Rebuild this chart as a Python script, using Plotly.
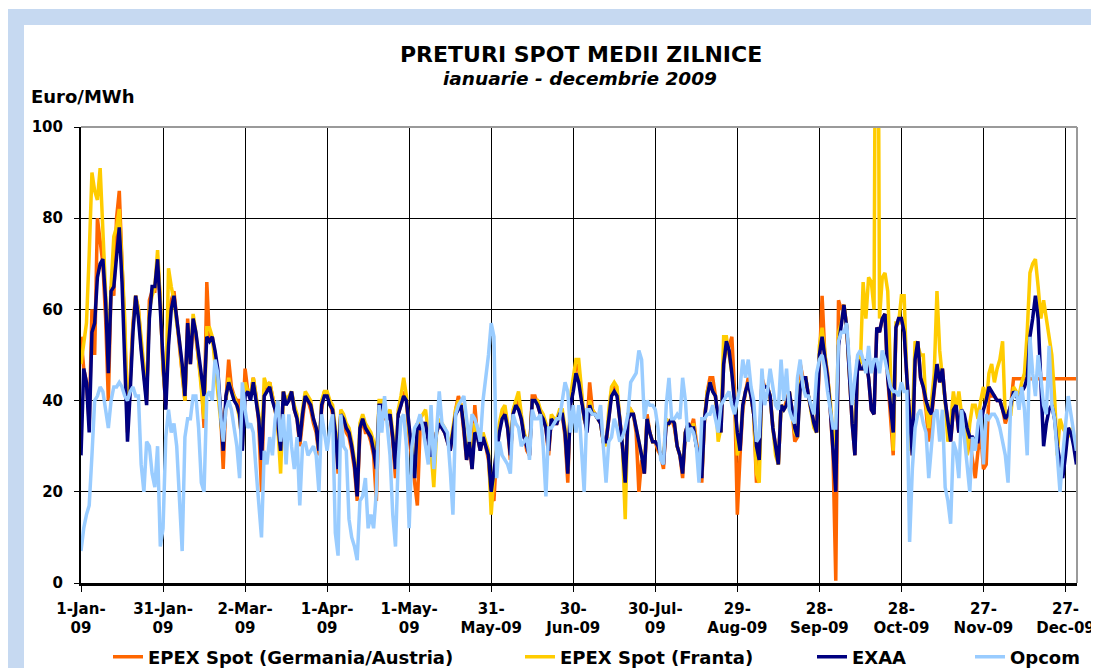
import pandas as pd
import plotly.graph_objects as go

# ---------------- data (daily averages, EUR/MWh, 1 Jan - 31 Dec 2009) ----------------
dates = pd.date_range("2009-01-01", "2009-12-31", freq="D")

epex_de = [
    54, 47, 44, 35, 60, 50, 80, 75, 70, 58, 40, 65, 63, 80, 86, 70, 55, 33, 44, 57, 63, 60, 52, 46, 40, 62, 64, 64, 71, 62, 47,
    39, 57, 62, 64, 58, 52, 47, 40, 58, 48, 57, 54, 49, 44, 34, 66, 53, 54, 50, 45, 38, 25, 40, 49, 43, 41, 40, 40,
    33, 47, 42, 41, 45, 41, 35, 20, 42, 43, 44, 41, 38, 34, 28, 42, 40, 40, 42, 38, 36, 30, 36, 41, 40, 38, 35, 33, 28, 38, 42,
    41, 40, 37, 33, 24, 37, 36, 33, 32, 29, 25, 18, 33, 36, 33, 33, 31, 28, 18, 38, 39, 36, 36, 37, 31, 23, 37, 39, 42, 40,
    32, 27, 21, 17, 34, 35, 35, 31, 28, 27, 33, 35, 34, 33, 31, 29, 33, 38, 41, 39, 33, 27, 31, 25, 39, 32, 29, 32, 30, 27, 19,
    18, 29, 34, 37, 38, 34, 27, 37, 40, 39, 36, 33, 29, 28, 41, 41, 39, 37, 36, 34, 28, 36, 35, 35, 37, 37, 32, 22, 40, 43,
    48, 47, 41, 36, 34, 44, 38, 37, 36, 35, 31, 31, 36, 42, 43, 42, 36, 30, 22, 37, 38, 37, 33, 20, 27, 24, 37, 33, 31, 31, 29,
    28, 25, 36, 35, 36, 34, 30, 28, 23, 33, 35, 34, 36, 31, 28, 22, 36, 42, 45, 45, 41, 35, 33, 48, 52, 52, 54, 42, 15, 28, 38,
    42, 45, 41, 37, 22, 27, 45, 43, 43, 41, 34, 30, 26, 39, 38, 40, 42, 38, 31, 32, 48, 45, 45, 41, 38, 35, 33, 50, 63, 50,
    46, 38, 28, 0.5, 62, 60, 61, 56, 44, 35, 28, 49, 47, 47, 49, 45, 38, 37, 56, 55, 58, 59, 45, 36, 28, 56, 58, 58, 55, 45, 35,
    28, 49, 53, 45, 43, 38, 31, 36, 43, 48, 44, 47, 40, 35, 31, 38, 38, 33, 37, 36, 33, 31, 27, 23, 29, 33, 25, 26, 42, 41,
    41, 40, 40, 38, 35, 37, 39,
    44.8, 44.8, 44.8, 44.8, 44.8, 44.8, 44.8, 44.8,
    44.8, 44.8, 44.8, 44.8, 44.8, 44.8, 44.8, 44.8,
    44.8, 44.8, 44.8, 44.8, 44.8, 44.8, 44.8, 44.8,
]

epex_fr = [
    48, 53, 57, 72, 90, 86, 84, 91, 78, 65, 50, 65, 76, 78, 82, 70, 58, 36, 44, 56, 63, 60, 53, 47, 41, 60, 63, 65, 73, 62, 47,
    40, 69, 65, 62, 57, 53, 46, 40, 55, 49, 59, 55, 49, 42, 36, 56, 56, 54, 48, 43, 37, 30, 40, 45, 42, 41, 39, 36,
    30, 44, 42, 41, 45, 41, 37, 29, 45, 43, 44, 41, 38, 34, 24, 42, 40, 41, 42, 39, 37, 31, 38, 42, 41, 40, 36, 34, 29, 40, 42,
    42, 40, 39, 34, 27, 38, 37, 35, 34, 31, 27, 21, 35, 37, 35, 34, 33, 31, 26, 40, 40, 38, 37, 38, 33, 26, 38, 41, 45, 41,
    33, 30, 24, 34, 36, 37, 38, 33, 29, 21, 33, 36, 35, 34, 32, 30, 34, 38, 40, 39, 35, 28, 32, 26, 35, 33, 30, 33, 31, 29, 15,
    24, 30, 35, 38, 39, 35, 29, 38, 40, 42, 37, 33, 31, 29, 40, 40, 40, 38, 37, 35, 30, 37, 36, 36, 38, 38, 34, 25, 41, 45,
    49, 49, 42, 36, 34, 40, 38, 37, 36, 35, 31, 30, 38, 43, 44, 43, 36, 30, 14, 37, 38, 37, 34, 31, 28, 25, 36, 33, 31, 31, 30,
    28, 27, 36, 35, 36, 35, 30, 28, 25, 33, 35, 33, 35, 30, 28, 24, 36, 42, 44, 42, 41, 31, 34, 54, 54, 50, 46, 40, 28, 31, 39,
    42, 44, 41, 37, 24, 22, 44, 43, 43, 41, 34, 28, 26, 39, 38, 39, 42, 38, 33, 32, 44, 45, 45, 41, 37, 34, 33, 52, 56, 50,
    45, 40, 32, 30, 55, 57, 61, 56, 45, 36, 31, 49, 48, 66, 58, 67, 66, 60, 200, 58, 67, 68, 64, 45, 29, 57, 57, 63, 63, 45, 29,
    35, 53, 52, 50, 50, 39, 34, 40, 46, 64, 51, 45, 40, 31, 35, 42, 38, 42, 37, 35, 28, 35, 39, 39, 36, 40, 43, 39, 46, 48,
    44, 47, 49, 53, 36, 37, 37, 43, 42, 41, 44, 46, 55, 68, 70, 71, 65, 58, 62, 58, 55, 50, 41, 28, 36, 34, 33, 32, 34, 32, 30,
]

exaa = [
    28, 47, 44, 33, 55, 57, 67, 70, 71, 62, 46, 64, 65, 72, 78, 66, 50, 31, 42, 55, 63, 58, 51, 45, 39, 58, 65, 65, 71, 60, 47,
    38, 52, 60, 63, 58, 52, 48, 41, 57, 48, 58, 55, 50, 46, 41, 54, 53, 54, 51, 47, 38, 29, 41, 44, 42, 40, 39, 37,
    29, 41, 42, 40, 44, 40, 36, 27, 41, 42, 43, 40, 38, 35, 29, 42, 39, 40, 42, 38, 36, 31, 37, 41, 40, 39, 36, 34, 29, 39, 41,
    41, 39, 38, 33, 25, 37, 36, 34, 33, 30, 26, 19, 34, 36, 34, 33, 32, 29, 25, 39, 39, 37, 36, 37, 32, 25, 37, 39, 41, 40,
    34, 28, 23, 35, 34, 35, 35, 31, 28, 28, 33, 35, 34, 33, 31, 29, 33, 37, 38, 39, 34, 27, 31, 25, 33, 32, 29, 32, 30, 28, 20,
    25, 29, 33, 36, 37, 34, 28, 37, 39, 38, 36, 32, 30, 28, 40, 40, 39, 37, 36, 34, 29, 36, 35, 35, 37, 37, 33, 24, 39, 42,
    46, 44, 40, 36, 33, 39, 37, 37, 36, 35, 31, 31, 36, 41, 42, 41, 36, 30, 22, 36, 37, 37, 34, 31, 28, 24, 36, 33, 31, 31, 30,
    28, 26, 35, 35, 36, 35, 30, 28, 24, 33, 35, 34, 34, 30, 28, 23, 36, 41, 44, 42, 41, 36, 33, 48, 53, 51, 46, 40, 33, 29, 39,
    42, 44, 41, 37, 30, 27, 44, 43, 43, 41, 34, 30, 26, 39, 38, 39, 42, 38, 34, 32, 43, 45, 45, 41, 38, 35, 33, 50, 54, 50,
    45, 38, 30, 20, 52, 56, 61, 56, 44, 35, 28, 49, 47, 47, 49, 45, 38, 37, 56, 55, 58, 59, 45, 38, 33, 56, 58, 58, 55, 45, 35,
    28, 49, 53, 45, 43, 40, 38, 37, 43, 48, 44, 47, 40, 35, 31, 38, 39, 33, 38, 37, 34, 32, 32, 31, 31, 35, 38, 40, 43, 42,
    41, 40, 40, 38, 36, 37, 39, 42, 41, 40, 42, 43, 45, 54, 58, 63, 58, 42, 30, 35, 38, 39, 36, 30, 26, 23, 28, 34, 33, 30, 26,
]

opcom = [
    7, 12, 15, 17, 28, 40, 41, 43, 42, 38, 34, 40, 43, 43, 44, 43, 41, 40, 42, 43, 41, 41, 26, 20, 31, 30, 24, 21, 30, 8, 12,
    32, 38, 33, 35, 30, 18, 7, 32, 36, 36, 41, 41, 34, 22, 20, 41, 42, 40, 49, 46, 37, 31, 38, 40, 38, 34, 30, 23,
    44, 38, 34, 35, 33, 25, 18, 10, 29, 26, 32, 28, 36, 40, 31, 37, 26, 37, 30, 25, 32, 17, 30, 31, 28, 29, 30, 28, 20, 37, 33,
    29, 34, 37, 11, 6, 37, 30, 29, 14, 10, 8, 5, 18, 19, 23, 12, 15, 12, 20, 39, 33, 41, 35, 28, 15, 8, 27, 36, 37, 30,
    12, 30, 34, 35, 37, 34, 30, 26, 39, 25, 33, 42, 35, 34, 33, 25, 15, 37, 39, 40, 41, 36, 31, 37, 36, 34, 31, 40, 45, 50, 57,
    54, 23, 31, 28, 27, 26, 24, 37, 35, 34, 30, 31, 32, 27, 38, 36, 36, 37, 30, 19, 34, 34, 35, 36, 36, 40, 44, 42, 33, 39,
    33, 39, 30, 20, 38, 38, 37, 37, 36, 39, 30, 22, 31, 32, 36, 34, 31, 32, 34, 37, 44, 45, 46, 51, 49, 36, 40, 39, 39, 38, 34,
    27, 26, 39, 45, 36, 36, 37, 36, 45, 40, 31, 34, 33, 30, 22, 36, 36, 37, 37, 39, 36, 33, 39, 40, 41, 42, 39, 37, 40, 43, 49,
    45, 49, 43, 40, 31, 32, 47, 39, 42, 47, 43, 39, 38, 49, 40, 47, 38, 36, 35, 45, 49, 43, 41, 41, 39, 37, 46, 49, 50, 47,
    42, 38, 34, 34, 53, 55, 55, 57, 49, 39, 45, 50, 51, 49, 46, 52, 46, 49, 49, 46, 51, 49, 46, 43, 42, 42, 41, 44, 42, 42, 9,
    25, 34, 37, 38, 35, 33, 23, 30, 37, 38, 31, 38, 21, 18, 13, 31, 29, 23, 38, 32, 26, 20, 32, 29, 35, 38, 26, 37, 36, 37,
    37, 36, 34, 31, 28, 22, 40, 41, 42, 38, 43, 38, 28, 54, 46, 41, 50, 45, 39, 37, 52, 39, 36, 28, 20, 28, 35, 41, 37, 33, 29,
]

series_names = ["EPEX Spot (Germania/Austria)", "EPEX Spot (Franta)", "EXAA", "Opcom"]
series_values = [epex_de, epex_fr, exaa, opcom]
series_colors = ["#FF6600", "#FFCC00", "#000080", "#99CCFF"]

tick_dates = ["2009-01-01", "2009-01-31", "2009-03-02", "2009-04-01", "2009-05-01", "2009-05-31",
              "2009-06-30", "2009-07-30", "2009-08-29", "2009-09-28", "2009-10-28", "2009-11-27", "2009-12-27"]
tick_labels = ["1-Jan-<br>09", "31-Jan-<br>09", "2-Mar-<br>09", "1-Apr-<br>09", "1-May-<br>09", "31-<br>May-09",
               "30-<br>Jun-09", "30-Jul-<br>09", "29-<br>Aug-09", "28-<br>Sep-09", "28-<br>Oct-09", "27-<br>Nov-09",
               "27-<br>Dec-09"]

for v in series_values:
    assert len(v) == len(dates), len(v)

# ---------------- layout geometry ----------------
# The page body has an 8 px margin, so the figure occupies viewport (8..1099, 8..668).
OFF = 8
W, H = 1099 - OFF, 668 - OFF
PLOT_L, PLOT_R, PLOT_T, PLOT_B = 81, 1077, 127, 583          # viewport pixels
ML, MR = PLOT_L - OFF, (1099 - PLOT_R)
MT, MB = PLOT_T - OFF, (668 - PLOT_B)
PW, PH = W - ML - MR, H - MT - MB
FONT = "DejaVu Sans"


def px(xv):
    """viewport x pixel -> paper fraction"""
    return (xv - OFF - ML) / PW


def py(yv):
    """viewport y pixel -> paper fraction"""
    return (H - MB - (yv - OFF)) / PH


fig = go.Figure()
legend_ids = ["legend", "legend2", "legend3", "legend4"]
legend_text_start = [148, 560, 852, 1010]       # viewport x where each legend label begins
for name, vals, col, lid in zip(series_names, series_values, series_colors, legend_ids):
    fig.add_trace(go.Scatter(x=dates, y=vals, mode="lines", name=name,
                             line=dict(color=col, width=3.5), legend=lid))

legend_common = dict(orientation="h", xref="container", yref="container", xanchor="left",
                     yanchor="middle", y=(668 - 657) / H, bgcolor="rgba(0,0,0,0)", borderwidth=0,
                     font=dict(family=FONT, size=18, color="black", weight="bold"))
legend_layout = {lid: dict(x=(ts - OFF - 40) / W, **legend_common)
                 for lid, ts in zip(legend_ids, legend_text_start)}

band = "#C6D9F1"
fig.update_layout(
    template="none",
    width=W, height=H,
    margin=dict(l=ML, r=MR, t=MT, b=MB, pad=0),
    paper_bgcolor="white", plot_bgcolor="white",
    font=dict(family=FONT, color="black"),
    showlegend=True,
    **legend_layout,
    xaxis=dict(
        type="date",
        range=["2009-01-01", "2009-12-31 05:00"],
        tickmode="array", tickvals=tick_dates, ticktext=tick_labels,
        tickangle=0,
        showgrid=True, gridcolor="black", gridwidth=1,
        ticks="outside", ticklen=6, tickwidth=1, tickcolor="black",
        showline=True, linecolor="black", linewidth=2.5,
        zeroline=False, automargin=False,
        tickfont=dict(family=FONT, size=15, color="black", weight="bold"),
        ticklabelstandoff=4,
    ),
    yaxis=dict(
        range=[0, 100], tickmode="array", tickvals=[0, 20, 40, 60, 80, 100],
        showgrid=True, gridcolor="black", gridwidth=1,
        ticks="outside", ticklen=5, tickwidth=1, tickcolor="black",
        showline=True, linecolor="black", linewidth=2,
        zeroline=False, automargin=False,
        tickfont=dict(family=FONT, size=15, color="black", weight="bold"),
        ticklabelstandoff=8,
    ),
    shapes=[
        dict(type="rect", xref="paper", yref="paper", x0=px(8), x1=px(1099), y0=py(25), y1=py(9),
             fillcolor=band, line=dict(width=0), layer="below"),
        dict(type="rect", xref="paper", yref="paper", x0=px(8), x1=px(24), y0=py(668), y1=py(9),
             fillcolor=band, line=dict(width=0), layer="below"),
        dict(type="line", xref="paper", yref="paper", x0=0, x1=1, y0=1, y1=1,
             line=dict(color="#9A9A9A", width=2), layer="above"),
        dict(type="line", xref="paper", yref="paper", x0=1, x1=1, y0=0, y1=1,
             line=dict(color="#9A9A9A", width=2), layer="above"),
    ],
    annotations=[
        dict(text="PRETURI SPOT MEDII ZILNICE", xref="paper", yref="paper", x=px(581), y=py(55),
             xanchor="center", yanchor="middle", showarrow=False,
             font=dict(family=FONT, size=22, color="black", weight="bold")),
        dict(text="ianuarie - decembrie 2009", xref="paper", yref="paper", x=px(580), y=py(78),
             xanchor="center", yanchor="middle", showarrow=False,
             font=dict(family=FONT, size=18.5, color="black", weight="bold", style="italic")),
        dict(text="Euro/MWh", xref="paper", yref="paper", x=px(29), y=py(97),
             xanchor="left", yanchor="middle", showarrow=False,
             font=dict(family=FONT, size=18, color="black", weight="bold")),
    ],
)

fig.write_html("out.html")
